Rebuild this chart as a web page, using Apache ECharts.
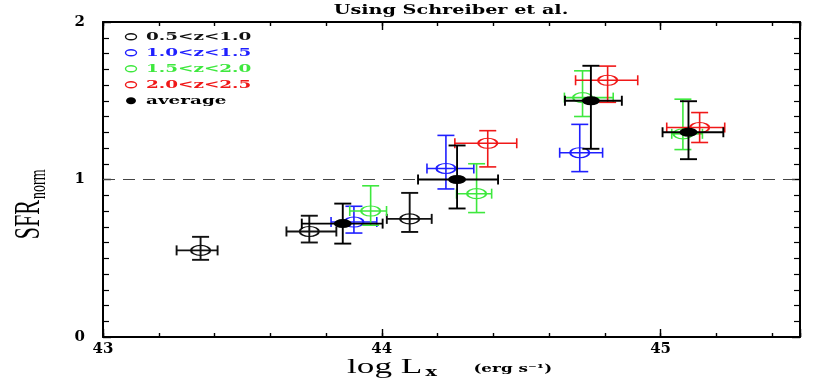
<!DOCTYPE html>
<html>
<head>
<meta charset="utf-8">
<script src="https://cdn.jsdelivr.net/npm/echarts@6/dist/echarts.min.js"></script>
<style>
  html, body { margin: 0; padding: 0; background: #fff; }
  #chart { width: 830px; height: 382px; }
</style>
</head>
<body>
<div id="chart"></div>
<script>
// 0.5<z<1.0
var z1X = [43.35, 43.74, 44.10];
var z1Y = [0.55, 0.67, 0.75];
var z1XErr = [[0.086, 0.061], [0.082, 0.097], [0.082, 0.079]];
var z1YErr = [[0.06, 0.086], [0.07, 0.10], [0.083, 0.165]];
// 1.0<z<1.5
var z2X = [43.90, 44.23, 44.71];
var z2Y = [0.73, 1.07, 1.17];
var z2XErr = [[0.082, 0.082], [0.068, 0.10], [0.072, 0.082]];
var z2YErr = [[0.07, 0.10], [0.13, 0.21], [0.12, 0.18]];
// 1.5<z<2.0
var z3X = [43.96, 44.34, 44.72, 45.08];
var z3Y = [0.80, 0.91, 1.52, 1.29];
var z3XErr = [[0.075, 0.057], [0.072, 0.054], [0.065, 0.11], [0.04, 0.07]];
var z3YErr = [[0.09, 0.16], [0.12, 0.19], [0.12, 0.17], [0.10, 0.22]];
// 2.0<z<2.5
var z4X = [44.38, 44.81, 45.14];
var z4Y = [1.23, 1.63, 1.33];
var z4XErr = [[0.118, 0.104], [0.115, 0.108], [0.118, 0.09]];
var z4YErr = [[0.15, 0.08], [0.14, 0.09], [0.095, 0.095]];
// average
var avgX = [43.86, 44.27, 44.75, 45.10];
var avgY = [0.72, 1.00, 1.50, 1.30];
var avgXErr = [[0.147, 0.143], [0.14, 0.147], [0.093, 0.111], [0.093, 0.125]];
var avgYErr = [[0.127, 0.127], [0.184, 0.216], [0.305, 0.222], [0.171, 0.197]];

var groupNames = ['0.5<z<1.0', '1.0<z<1.5', '1.5<z<2.0', '2.0<z<2.5', 'average'];
var groupColors = ['#111111', '#1f1fff', '#3ee83e', '#f01818', '#000000'];
var xTickLabels = ['43', '44', '45'];
var yTickLabels = ['0', '1', '2'];
var refLine = 1;

var groups = [
    [z1X, z1Y, z1XErr, z1YErr],
    [z2X, z2Y, z2XErr, z2YErr],
    [z3X, z3Y, z3XErr, z3YErr],
    [z4X, z4Y, z4XErr, z4YErr],
    [avgX, avgY, avgXErr, avgYErr]
];

var STRETCH = 1.6;
var FONT = '"DejaVu Serif", serif';

//误差棒
function errorBars(color, width) {
    return function (params, api) {
        var x = api.value(0), y = api.value(1);
        var l = api.coord([x - api.value(2), y]);
        var r = api.coord([x + api.value(3), y]);
        var b = api.coord([x, y - api.value(4)]);
        var t = api.coord([x, y + api.value(5)]);
        var st = { stroke: color, lineWidth: width };
        function line(x1, y1, x2, y2) {
            return { type: 'line', shape: { x1: x1, y1: y1, x2: x2, y2: y2 }, style: st };
        }
        return {
            type: 'group',
            children: [
                line(l[0], l[1], r[0], r[1]),
                line(l[0], l[1] - 5, l[0], l[1] + 5),
                line(r[0], r[1] - 5, r[0], r[1] + 5),
                line(b[0], b[1], t[0], t[1]),
                line(t[0] - 8.5, t[1], t[0] + 8.5, t[1]),
                line(b[0] - 8.5, b[1], b[0] + 8.5, b[1])
            ]
        };
    };
}

var series = [];
groups.forEach(function (g, i) {
    var xs = g[0], ys = g[1], xe = g[2], ye = g[3];
    var isAvg = i === 4;
    series.push({
        name: groupNames[i] + ' err',
        type: 'custom',
        renderItem: errorBars(groupColors[i], i === 0 || isAvg ? 1.9 : 1.6),
        encode: { x: 0, y: 1 },
        data: xs.map(function (x, k) {
            return [x, ys[k], xe[k][0], xe[k][1], ye[k][0], ye[k][1]];
        }),
        silent: true,
        z: 2 + i
    });
    var s = {
        name: groupNames[i],
        type: 'scatter',
        symbol: 'circle',
        symbolSize: isAvg ? [18, 9] : [19, 10],
        data: xs.map(function (x, k) { return [x, ys[k]]; }),
        itemStyle: isAvg
            ? { color: groupColors[i], opacity: 1 }
            : { color: 'rgba(0,0,0,0)', borderColor: groupColors[i], borderWidth: 1.6, opacity: 1 },
        silent: true,
        z: 2 + i
    };
    if (i === 0) {
        s.markLine = {
            silent: true,
            symbol: 'none',
            label: { show: false },
            lineStyle: { color: '#444', width: 1.2, type: [12, 8] },
            data: [{ yAxis: refLine }]
        };
    }
    series.push(s);
});

function xAxisCfg(pos, interval, tickLen, showLine, showLabel) {
    return {
        type: 'value',
        position: pos,
        min: 43,
        max: 45.5,
        interval: interval,
        axisLine: { show: showLine, onZero: false, lineStyle: { color: '#000', width: 2 } },
        axisTick: { show: true, inside: true, length: tickLen, lineStyle: { color: '#000', width: 1.4 } },
        axisLabel: {
            show: showLabel,
            margin: 5,
            color: '#000',
            fontFamily: FONT,
            fontWeight: 'bold',
            fontSize: 15,
            formatter: function (v) {
                return xTickLabels.indexOf(String(v)) >= 0 ? String(v) : '';
            }
        },
        splitLine: { show: false }
    };
}

function yAxisCfg(pos, showLabel) {
    return {
        type: 'value',
        position: pos,
        min: 0,
        max: 2,
        interval: 1,
        axisLine: { show: true, onZero: false, lineStyle: { color: '#000', width: 2 } },
        axisTick: { show: true, inside: true, length: 8, lineStyle: { color: '#000', width: 1.4 } },
        minorTick: { show: true, splitNumber: 10, length: 6, lineStyle: { color: '#000', width: 1.2 } },
        axisLabel: {
            show: showLabel,
            margin: 18,
            color: '#000',
            fontFamily: FONT,
            fontWeight: 'bold',
            fontSize: 15,
            formatter: function (v) {
                return yTickLabels.indexOf(String(v)) >= 0 ? String(v) : '';
            }
        },
        splitLine: { show: false }
    };
}

// 图例（横向拉伸的文字）
var legendGraphics = [];
groupNames.forEach(function (name, i) {
    var cy = 36.7 + 16 * i;
    var isAvg = i === 4;
    legendGraphics.push({
        type: 'ellipse',
        shape: { cx: 131, cy: cy, rx: isAvg ? 5 : 5.5, ry: isAvg ? 3.5 : 3 },
        style: isAvg
            ? { fill: groupColors[i] }
            : { fill: 'none', stroke: groupColors[i], lineWidth: 1.4 }
    });
    legendGraphics.push({
        type: 'text',
        x: 146,
        y: cy,
        scaleX: STRETCH,
        style: {
            text: name,
            fill: groupColors[i],
            font: 'bold 11.5px ' + FONT,
            align: 'left',
            verticalAlign: 'middle'
        }
    });
});

var option = {
    animation: false,
    backgroundColor: '#fff',
    grid: { left: 103, right: 30, top: 22, bottom: 45, containLabel: false, outerBoundsMode: 'none' },
    xAxis: [
        xAxisCfg('bottom', 1, 8, true, true),
        xAxisCfg('bottom', 0.2, 4, false, false),
        xAxisCfg('top', 1, 8, true, false),
        xAxisCfg('top', 0.2, 4, false, false)
    ],
    yAxis: [yAxisCfg('left', true), yAxisCfg('right', false)],
    graphic: legendGraphics.concat([
        {
            type: 'text',
            x: 451,
            y: 11,
            scaleX: STRETCH,
            style: {
                text: 'Using Schreiber et al.',
                fill: '#000',
                font: 'bold 12px ' + FONT,
                align: 'center',
                verticalAlign: 'middle'
            }
        },
        {
            type: 'group',
            x: 347,
            y: 367,
            scaleX: STRETCH,
            children: [
                { type: 'text', x: 0, y: 0, style: { text: 'log L', fill: '#000', font: '22px "Liberation Serif", serif', align: 'left', verticalAlign: 'middle' } },
                { type: 'text', x: 49, y: 6, style: { text: 'x', fill: '#000', font: 'bold 12px ' + FONT, align: 'left', verticalAlign: 'middle' } },
                { type: 'text', x: 79, y: 2, style: { text: '(erg s\u207B\u00B9)', fill: '#000', font: 'bold 10.5px ' + FONT, align: 'left', verticalAlign: 'middle' } }
            ]
        },
        {
            type: 'group',
            x: 30,
            y: 200,
            rotation: Math.PI / 2,
            scaleY: STRETCH,
            children: [
                { type: 'text', x: 0, y: 0, style: { text: 'SFR', fill: '#000', font: '22px "Liberation Serif", serif', align: 'right', verticalAlign: 'middle' } },
                { type: 'text', x: 1, y: 6, style: { text: 'norm', fill: '#000', font: '14px "Liberation Serif", serif', align: 'left', verticalAlign: 'middle' } }
            ]
        }
    ]),
    series: series
};

var myChart = echarts.init(document.getElementById('chart'), null, { renderer: 'canvas' });
myChart.setOption(option);
</script>
</body>
</html>
